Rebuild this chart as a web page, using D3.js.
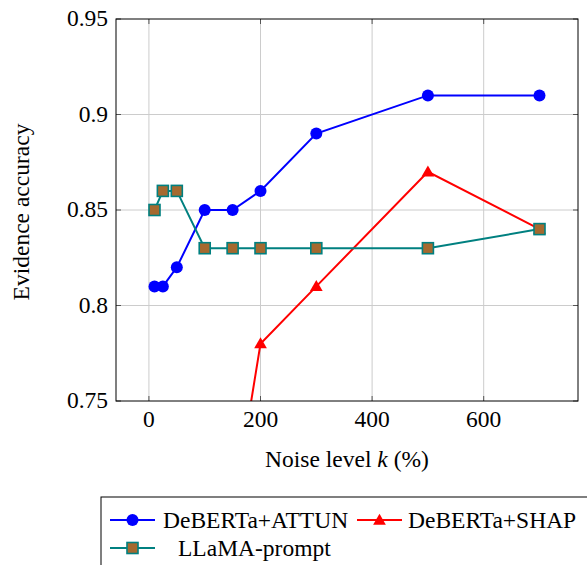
<!DOCTYPE html>
<html>
<head>
  <script src="https://d3js.org/d3.v7.min.js"></script>
  <style>
  body { margin: 0; background: white; }
  </style>
</head>
<body>
<svg id="chart" width="587" height="565" font-family="Liberation Serif" font-size="23.5"></svg>
<script>
// data
var attunX = [10, 25, 50, 100, 150, 200, 300, 500, 700];
var attunY = [0.81, 0.81, 0.82, 0.85, 0.85, 0.86, 0.89, 0.91, 0.91];
var shapX = [150, 200, 300, 500, 700];
var shapY = [0.69, 0.78, 0.81, 0.87, 0.84];
var llamaX = [10, 25, 50, 100, 150, 200, 300, 500, 700];
var llamaY = [0.85, 0.86, 0.86, 0.83, 0.83, 0.83, 0.83, 0.83, 0.84];
var xTicks = [0, 200, 400, 600];
var yTicks = [0.75, 0.8, 0.85, 0.9, 0.95];
var yTickLabels = ["0.75", "0.8", "0.85", "0.9", "0.95"];

var svg = d3.select("#chart");
var pL = 116, pR = 578, pT = 19, pB = 401;

var xs = d3.scaleLinear().domain([-59, 769]).range([pL, pR]);
var ys = d3.scaleLinear().domain([0.75, 0.95]).range([pB, pT]);

// grid
svg.append("g").selectAll("line").data(xTicks).enter().append("line")
  .attr("x1", d => xs(d)).attr("x2", d => xs(d))
  .attr("y1", pT).attr("y2", pB)
  .attr("stroke", "#cccccc").attr("stroke-width", 1);
svg.append("g").selectAll("line").data(yTicks.slice(1, -1)).enter().append("line")
  .attr("x1", pL).attr("x2", pR)
  .attr("y1", d => ys(d)).attr("y2", d => ys(d))
  .attr("stroke", "#cccccc").attr("stroke-width", 1);

// tick marks inside, all four sides
var tk = 5;
var tg = svg.append("g").attr("stroke", "#555").attr("stroke-width", 1);
xTicks.forEach(function(t) {
  tg.append("line").attr("x1", xs(t)).attr("x2", xs(t)).attr("y1", pB).attr("y2", pB - tk);
  tg.append("line").attr("x1", xs(t)).attr("x2", xs(t)).attr("y1", pT).attr("y2", pT + tk);
});
yTicks.forEach(function(t) {
  tg.append("line").attr("x1", pL).attr("x2", pL + tk).attr("y1", ys(t)).attr("y2", ys(t));
  tg.append("line").attr("x1", pR).attr("x2", pR - tk).attr("y1", ys(t)).attr("y2", ys(t));
});

// clip
svg.append("clipPath").attr("id", "clip").append("rect")
  .attr("x", pL).attr("y", pT).attr("width", pR - pL).attr("height", pB - pT);

var plot = svg.append("g").attr("clip-path", "url(#clip)");

function series(xv, yv, color) {
  var pts = xv.map(function(x, i) { return [x, yv[i]]; });
  plot.append("path").datum(pts)
    .attr("fill", "none").attr("stroke", color).attr("stroke-width", 2)
    .attr("d", d3.line().x(d => xs(d[0])).y(d => ys(d[1])));
  return pts;
}

var a = series(attunX, attunY, "#0000ff");
plot.selectAll(".ca").data(a).enter().append("circle")
  .attr("cx", d => xs(d[0])).attr("cy", d => ys(d[1])).attr("r", 6)
  .attr("fill", "#0000ff");

var s = series(shapX, shapY, "#ff0000");
var tri = d3.symbol().type(d3.symbolTriangle).size(70);
plot.selectAll(".ts").data(s).enter().append("path")
  .attr("d", tri)
  .attr("transform", d => "translate(" + xs(d[0]) + "," + (ys(d[1]) + 1) + ")")
  .attr("fill", "#ff0000");

var l = series(llamaX, llamaY, "#008080");
plot.selectAll(".sl").data(l).enter().append("rect")
  .attr("x", d => xs(d[0]) - 5.5).attr("y", d => ys(d[1]) - 5.5)
  .attr("width", 11).attr("height", 11)
  .attr("fill", "#a5692f").attr("stroke", "#008080").attr("stroke-width", 1.6);

// frame
svg.append("rect").attr("x", pL).attr("y", pT)
  .attr("width", pR - pL).attr("height", pB - pT)
  .attr("fill", "none").attr("stroke", "black").attr("stroke-width", 1);

// tick labels
svg.append("g").selectAll("text").data(xTicks).enter().append("text")
  .attr("x", d => xs(d)).attr("y", 427)
  .attr("text-anchor", "middle")
  .text(d => d);
svg.append("g").selectAll("text").data(yTicks).enter().append("text")
  .attr("x", 108).attr("y", d => ys(d) + 7)
  .attr("text-anchor", "end")
  .text((d, i) => yTickLabels[i]);

// axis titles
var xl = svg.append("text").attr("x", 347).attr("y", 467)
  .attr("text-anchor", "middle");
xl.append("tspan").text("Noise level ");
xl.append("tspan").attr("font-style", "italic").text("k");
xl.append("tspan").text(" (%)");

svg.append("text")
  .attr("transform", "translate(29,212) rotate(-90)")
  .attr("text-anchor", "middle")
  .text("Evidence accuracy");

// legend
var lg = svg.append("g");
lg.append("rect").attr("x", 101).attr("y", 497).attr("width", 520).attr("height", 100)
  .attr("fill", "white").attr("stroke", "black").attr("stroke-width", 1);

function legendLine(x, y, color) {
  lg.append("line").attr("x1", x).attr("x2", x + 45).attr("y1", y).attr("y2", y)
    .attr("stroke", color).attr("stroke-width", 2);
}
legendLine(110, 520, "#0000ff");
lg.append("circle").attr("cx", 132.5).attr("cy", 520).attr("r", 6).attr("fill", "#0000ff");
lg.append("text").attr("x", 163).attr("y", 528).text("DeBERTa+ATTUN");

legendLine(357, 520, "#ff0000");
lg.append("path").attr("d", tri).attr("transform", "translate(379.5,521)").attr("fill", "#ff0000");
lg.append("text").attr("x", 408).attr("y", 528).text("DeBERTa+SHAP");

legendLine(110, 548, "#008080");
lg.append("rect").attr("x", 127).attr("y", 542.5).attr("width", 11).attr("height", 11)
  .attr("fill", "#a5692f").attr("stroke", "#008080").attr("stroke-width", 1.6);
lg.append("text").attr("x", 178).attr("y", 556).text("LLaMA-prompt");
</script>
</body>
</html>
